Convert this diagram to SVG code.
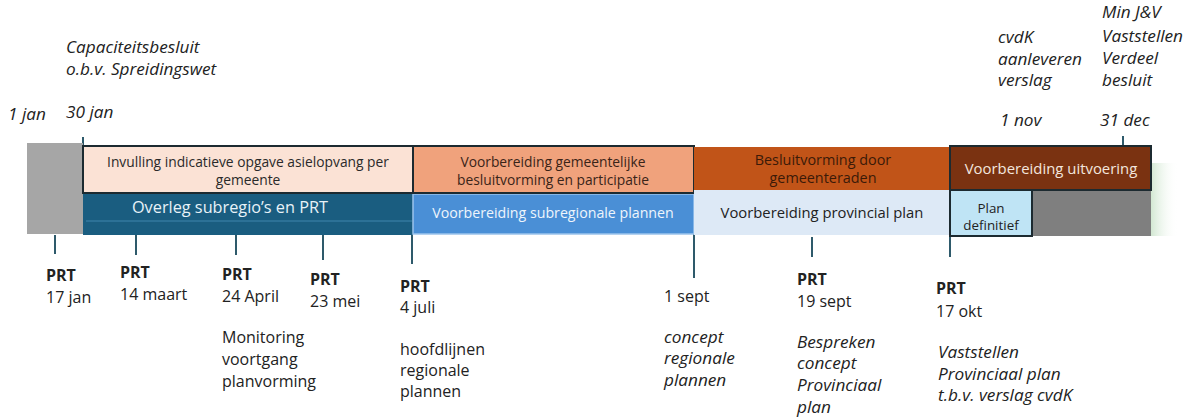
<svg xmlns="http://www.w3.org/2000/svg" width="1195" height="417" viewBox="0 0 1195 417">
<defs>
<linearGradient id="gfade" x1="0" y1="0" x2="1" y2="0">
<stop offset="0" stop-color="#cfe6cf"/>
<stop offset="1" stop-color="#ffffff" stop-opacity="0"/>
</linearGradient>
<style>
text{font-family:"Open Sans","Liberation Sans",Arial,sans-serif;}
.lbl{font-size:16px;fill:#222;}
.it{font-style:italic;font-size:17.2px;}
.b{font-weight:bold;font-size:16px;}
.bar{font-size:13.8px;text-anchor:middle;}
.tick{stroke:#2e5a6b;stroke-width:2;fill:none;}
.bd{stroke:#1c2a30;stroke-width:2;}
</style>
</defs>
<rect width="1195" height="417" fill="#ffffff"/>

<g id="fade"><rect x="1150" y="163" width="28" height="73" fill="url(#gfade)"/></g>

<g id="connectors">
<line class="tick" x1="83" y1="137" x2="83" y2="147"/>
<line class="tick" x1="1123" y1="136" x2="1123" y2="146"/>
<line class="tick" x1="55" y1="235" x2="55" y2="254"/>
<line class="tick" x1="136" y1="235" x2="136" y2="255"/>
<line class="tick" x1="236" y1="235" x2="236" y2="255"/>
<line class="tick" x1="323" y1="235" x2="323" y2="260"/>
<line class="tick" x1="412" y1="235" x2="412" y2="264"/>
<line class="tick" x1="694" y1="234" x2="694" y2="278"/>
<line class="tick" x1="812" y1="237" x2="812" y2="257"/>
<line class="tick" x1="950" y1="237" x2="950" y2="257"/>
</g>

<g id="start-grey"><rect x="27" y="143" width="56" height="91" fill="#a6a6a6"/></g>

<g id="overleg">
<rect x="83" y="193" width="330" height="42" fill="#1a5d80"/>
<line x1="86" y1="221" x2="412" y2="221" stroke="#3f86ad" stroke-width="1"/>
<text x="230" y="213" class="bar" style="font-size:16.3px" fill="#e8f2f8">Overleg subregio’s en PRT</text>
</g>

<g id="invulling">
<rect x="83" y="146" width="330" height="47" fill="#fbe2d5" class="bd"/>
<text x="248" y="167" class="bar" fill="#2a2a2a">Invulling indicatieve opgave asielopvang per</text>
<text x="248" y="185" class="bar" fill="#2a2a2a">gemeente</text>
</g>

<g id="subregionaal">
<rect x="413" y="194" width="281" height="40" fill="#4a8fd6" stroke="#9cc4ec" stroke-width="1.5"/>
<text x="553" y="218" class="bar" style="font-size:14.2px" fill="#eef5fc">Voorbereiding subregionale plannen</text>
</g>

<g id="gemeentelijk">
<rect x="413" y="146" width="281" height="47" fill="#f0a27c" class="bd"/>
<text x="553" y="167" class="bar" fill="#3a2418">Voorbereiding gemeentelijke</text>
<text x="553" y="185" class="bar" fill="#3a2418">besluitvorming en participatie</text>
</g>

<g id="besluitvorming">
<rect x="694" y="147" width="256" height="43" fill="#c15418"/>
<text x="823" y="165" class="bar" style="font-size:14.4px" fill="#3b1a08">Besluitvorming door</text>
<text x="823" y="183" class="bar" style="font-size:14.4px" fill="#3b1a08">gemeenteraden</text>
</g>

<g id="provinciaal">
<rect x="694" y="190" width="256" height="45" fill="#dde9f6"/>
<text x="822" y="218" class="bar" style="font-size:14.8px" fill="#222">Voorbereiding provincial plan</text>
</g>

<g id="end-grey"><rect x="1032" y="190" width="119" height="46" fill="#7f7f7f"/></g>

<g id="uitvoering">
<rect x="950" y="146" width="201" height="44" fill="#7a3211" class="bd"/>
<text x="1051" y="174" class="bar" style="font-size:14.9px" fill="#f3e6de">Voorbereiding uitvoering</text>
</g>

<g id="definitief">
<rect x="950" y="190" width="82" height="46" fill="#bfe4f5" class="bd"/>
<text x="991" y="213" class="bar" style="font-size:13.4px" fill="#222">Plan</text>
<text x="991" y="230" class="bar" style="font-size:13.4px" fill="#222">definitief</text>
</g>

<g id="top-labels">
<text x="66" y="53" class="lbl it">Capaciteitsbesluit</text>
<text x="66" y="75" class="lbl it">o.b.v. Spreidingswet</text>
<text x="8" y="120" class="lbl it">1 jan</text>
<text x="66" y="118" class="lbl it">30 jan</text>
<text x="998" y="43" class="lbl it">cvdK</text>
<text x="998" y="65" class="lbl it">aanleveren</text>
<text x="998" y="86" class="lbl it">verslag</text>
<text x="1000" y="126" class="lbl it">1 nov</text>
<text x="1102" y="18" class="lbl it">Min J&amp;V</text>
<text x="1102" y="42" class="lbl it">Vaststellen</text>
<text x="1102" y="64" class="lbl it">Verdeel</text>
<text x="1102" y="86" class="lbl it">besluit</text>
<text x="1100" y="126" class="lbl it">31 dec</text>
</g>

<g id="bottom-labels">
<text x="46" y="281" class="lbl b">PRT</text>
<text x="46" y="303" class="lbl">17 jan</text>
<text x="120" y="278" class="lbl b">PRT</text>
<text x="120" y="300" class="lbl">14 maart</text>
<text x="222" y="280" class="lbl b">PRT</text>
<text x="222" y="302" class="lbl">24 April</text>
<text x="222" y="343" class="lbl">Monitoring</text>
<text x="222" y="365" class="lbl">voortgang</text>
<text x="222" y="387" class="lbl">planvorming</text>
<text x="310" y="285" class="lbl b">PRT</text>
<text x="310" y="307" class="lbl">23 mei</text>
<text x="400" y="292" class="lbl b">PRT</text>
<text x="400" y="313" class="lbl">4 juli</text>
<text x="400" y="355" class="lbl">hoofdlijnen</text>
<text x="400" y="376" class="lbl">regionale</text>
<text x="400" y="397" class="lbl">plannen</text>
<text x="664" y="302" class="lbl">1 sept</text>
<text x="664" y="343" class="lbl it">concept</text>
<text x="664" y="364" class="lbl it">regionale</text>
<text x="664" y="386" class="lbl it">plannen</text>
<text x="797" y="285" class="lbl b">PRT</text>
<text x="797" y="307" class="lbl">19 sept</text>
<text x="797" y="348" class="lbl it">Bespreken</text>
<text x="797" y="369" class="lbl it">concept</text>
<text x="797" y="391" class="lbl it">Provinciaal</text>
<text x="797" y="413" class="lbl it">plan</text>
<text x="936" y="294" class="lbl b">PRT</text>
<text x="936" y="317" class="lbl">17 okt</text>
<text x="938" y="358" class="lbl it">Vaststellen</text>
<text x="938" y="380" class="lbl it">Provinciaal plan</text>
<text x="938" y="401" class="lbl it">t.b.v. verslag cvdK</text>
</g>
</svg>
